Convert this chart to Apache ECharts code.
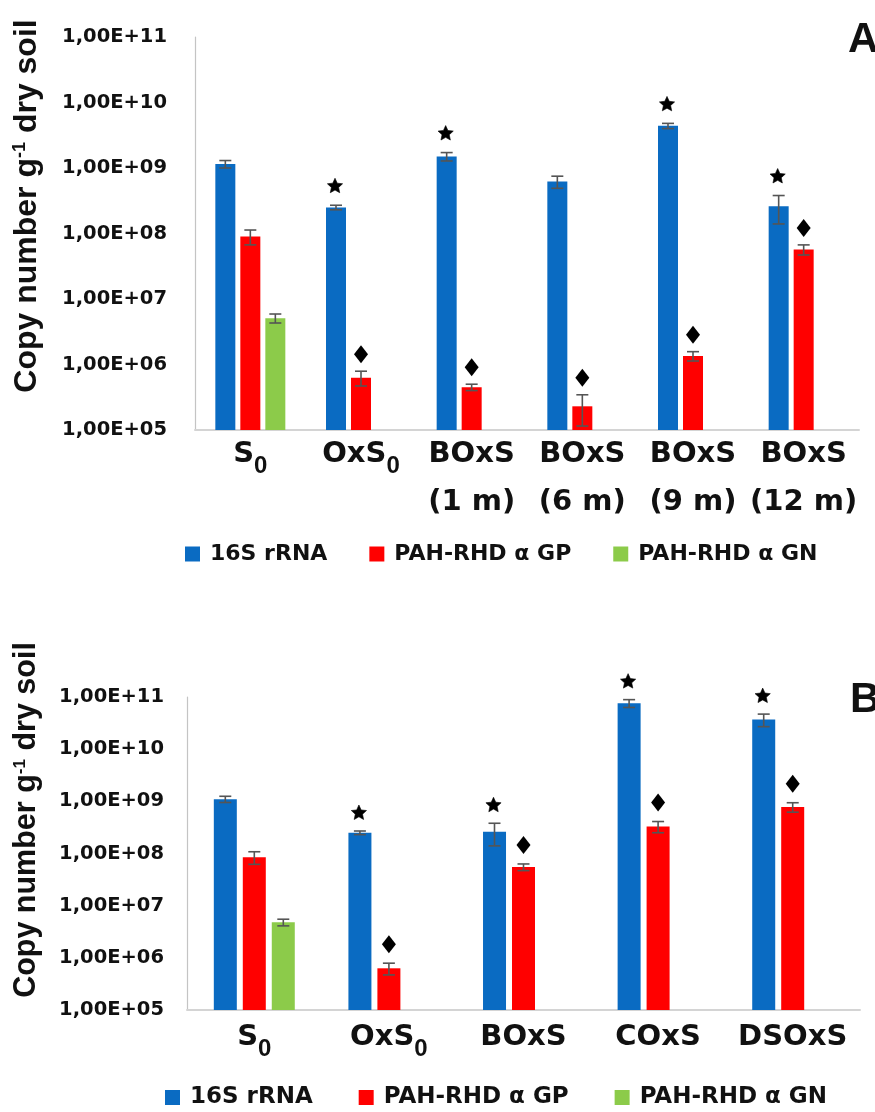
<!DOCTYPE html>
<html><head><meta charset="utf-8">
<script src="https://cdn.jsdelivr.net/npm/echarts@6/dist/echarts.min.js"></script>
<style>html,body{margin:0;padding:0;background:#fff}#c{width:875px;height:1112px}</style>
</head><body><div id="c"></div>
<script>
// ---------- data ----------
const seriesNames = ['16S rRNA', 'PAH-RHD α GP', 'PAH-RHD α GN'];
const seriesColors = ['#0A6BC2', '#FF0000', '#8CCB4A'];
const yTickLabels = ['1,00E+05', '1,00E+06', '1,00E+07', '1,00E+08', '1,00E+09', '1,00E+10', '1,00E+11'];

// Panel A
const categoriesA = ['S0', 'OxS0', 'BOxS\n(1 m)', 'BOxS\n(6 m)', 'BOxS\n(9 m)', 'BOxS\n(12 m)'];
const rrnaA    = [1.15e9, 2.5e8, 1.5e9, 6.2e8, 4.4e9, 2.6e8];
const rrnaErrA = [1.5e8, 2.0e7, 2.2e8, 1.3e8, 4.0e8, 1.2e8];
const gpA      = [9.0e7, 6.3e5, 4.5e5, 2.3e5, 1.35e6, 5.7e7];
const gpErrA   = [2.3e7, 1.6e5, 5.0e4, 1.15e5, 2.2e5, 1.0e7];
const gnA      = [5.1e6, null, null, null, null, null];
const gnErrA   = [8.0e5, null, null, null, null, null];
const starA    = [0, 1, 1, 0, 1, 1];   // * on 16S rRNA
const diamondA = [0, 1, 1, 1, 1, 1];   // ♦ on PAH-RHD α GP

// Panel B
const categoriesB = ['S0', 'OxS0', 'BOxS', 'COxS', 'DSOxS'];
const rrnaB    = [1.1e9, 2.5e8, 2.6e8, 7.6e10, 3.7e10];
const rrnaErrB = [1.5e8, 2.0e7, 1.2e8, 1.3e10, 1.0e10];
const gpB      = [8.5e7, 6.3e5, 5.5e7, 3.3e8, 7.8e8];
const gpErrB   = [2.3e7, 1.6e5, 8.0e6, 8.0e7, 1.6e8];
const gnB      = [4.8e6, null, null, null, null];
const gnErrB   = [7.0e5, null, null, null, null];
const starB    = [0, 1, 1, 1, 1];
const diamondB = [0, 1, 1, 1, 1];

// ---------- helpers ----------
const chart = echarts.init(document.getElementById('c'), null, {renderer: 'canvas'});

function errData(vals, errs, k, marks) {
  const out = [];
  vals.forEach((v, i) => {
    if (v == null) return;
    out.push([i, v, errs[i] || 0, k, marks ? marks[i] : 0]);
  });
  return out;
}

function starPoints(cx, cy, R, r) {
  const pts = [];
  for (let i = 0; i < 10; i++) {
    const a = -Math.PI / 2 + i * Math.PI / 5;
    const rad = i % 2 === 0 ? R : r;
    pts.push([cx + rad * Math.cos(a), cy + rad * Math.sin(a)]);
  }
  return pts;
}

function makeRender(barW, gap, starGap, diaGap) {
  return function (params, api) {
    const cat = api.value(0), v = api.value(1), e = api.value(2), k = api.value(3), mark = api.value(4);
    const hi = api.coord([cat, v + e]);
    const lo = api.coord([cat, v - e]);
    const x = hi[0] + (k - 1) * (barW + gap);
    const cap = 6;
    const st = {stroke: '#555', lineWidth: 1.6};
    const children = [
      {type: 'line', shape: {x1: x, y1: hi[1], x2: x, y2: lo[1]}, style: st},
      {type: 'line', shape: {x1: x - cap, y1: hi[1], x2: x + cap, y2: hi[1]}, style: st},
      {type: 'line', shape: {x1: x - cap, y1: lo[1], x2: x + cap, y2: lo[1]}, style: st}
    ];
    if (mark) {
      if (k === 0) {
        const cy = hi[1] - starGap;
        children.push({type: 'polygon', shape: {points: starPoints(x - 1, cy, 8, 3.8)}, style: {fill: '#000', stroke: '#000', lineWidth: 0.6, lineJoin: 'round'}});
      } else {
        const cy = hi[1] - diaGap;
        children.push({type: 'polygon', shape: {points: [[x, cy - 9], [x + 7, cy], [x, cy + 9], [x - 7, cy]]}, style: {fill: '#000'}});
      }
    }
    return {type: 'group', children};
  };
}

function catFormatter(v) {
  return v.split('\n').map(l => l.replace(/S0$/, 'S{s|0}')).join('\n');
}

function xAxisCfg(gridIndex, cats, margin) {
  return {
    type: 'category', gridIndex, data: cats,
    axisLine: {lineStyle: {color: '#d4d4d4', width: 2}},
    axisTick: {show: false},
    axisLabel: {
      interval: 0, margin, color: '#111',
      fontFamily: 'DejaVu Sans', fontWeight: 'bold', fontSize: 29, lineHeight: 48,
      formatter: catFormatter,
      rich: {s: {fontFamily: 'Liberation Sans', fontWeight: 'bold', fontSize: 24, lineHeight: 30, verticalAlign: 'bottom', color: '#111'}}
    }
  };
}

function yAxisCfg(gridIndex, margin) {
  return {
    type: 'log', logBase: 10, gridIndex, min: 1e5, max: 1e11, splitNumber: 6,
    axisLine: {show: true, lineStyle: {color: '#c4c4c4', width: 1.2}},
    axisTick: {show: false},
    splitLine: {show: false},
    axisLabel: {
      margin, color: '#111', fontFamily: 'DejaVu Sans', fontWeight: 'bold', fontSize: 19.5,
      formatter: v => yTickLabels[Math.round(Math.log10(v)) - 5] || ''
    }
  };
}

function barSeries(idx, name, data, barW, gap) {
  return {
    type: 'bar', name, xAxisIndex: idx, yAxisIndex: idx, data,
    barWidth: barW, barGap: gap, itemStyle: {color: seriesColors[seriesNames.indexOf(name)]},
    silent: true, animation: false
  };
}

function errSeries(idx, data, barW, gap, sg, dg) {
  return {
    type: 'custom', name: 'err' + idx, xAxisIndex: idx, yAxisIndex: idx,
    data, encode: {x: 0, y: 1}, renderItem: makeRender(barW, gap, sg, dg),
    silent: true, animation: false, z: 5
  };
}

const wA = 20, gA = 5, wB = 23, gB = 6;
const errA = [].concat(
  errData(rrnaA, rrnaErrA, 0, starA),
  errData(gpA, gpErrA, 1, diamondA),
  errData(gnA, gnErrA, 2, null));
const errB = [].concat(
  errData(rrnaB, rrnaErrB, 0, starB),
  errData(gpB, gpErrB, 1, diamondB),
  errData(gnB, gnErrB, 2, null));

function legendCfg(left, top, gap, fs) {
  return {
    left, top, itemGap: gap,
    icon: 'rect', itemWidth: 15, itemHeight: 15, data: seriesNames,
    selectedMode: false,
    textStyle: {fontFamily: 'DejaVu Sans', fontWeight: 'bold', fontSize: fs, color: '#111', padding: [0, 0, 0, 5]}
  };
}

const yTitle = (x, y, size) => ({
  type: 'text', x, y, rotation: Math.PI / 2,
  style: {
    text: 'Copy number g{sup|-1} dry soil', x: 0, y: 0,
    align: 'center', verticalAlign: 'middle',
    font: 'bold ' + size + 'px "Liberation Sans", Arial', fill: '#111',
    rich: {sup: {font: 'bold ' + Math.round(size * 0.55) + 'px "Liberation Sans", Arial', fill: '#111', lineHeight: 12, verticalAlign: 'top'}}
  }
});

const option = {
  animation: false,
  backgroundColor: '#fff',
  grid: [
    {left: 195, right: 16, top: 37, height: 393, containLabel: false},
    {left: 187, right: 15, top: 697, height: 313, containLabel: false}
  ],
  xAxis: [xAxisCfg(0, categoriesA, 0), xAxisCfg(1, categoriesB, 3)],
  yAxis: [yAxisCfg(0, 28), yAxisCfg(1, 23)],
  legend: [legendCfg(180, 538, 42, 22), legendCfg(160, 1081, 46, 23)],
  series: [
    barSeries(0, seriesNames[0], rrnaA, wA, '25%'),
    barSeries(0, seriesNames[1], gpA, wA, '25%'),
    barSeries(0, seriesNames[2], gnA, wA, '25%'),
    errSeries(0, errA, wA, gA, 19, 17),
    barSeries(1, seriesNames[0], rrnaB, wB, '26%'),
    barSeries(1, seriesNames[1], gpB, wB, '26%'),
    barSeries(1, seriesNames[2], gnB, wB, '26%'),
    errSeries(1, errB, wB, gB, 18, 19)
  ],
  graphic: [
    yTitle(27, 206, 32),
    yTitle(27, 820, 30.5),
    {type: 'text', x: 848, y: 40, style: {text: 'A', x: 0, y: 0, verticalAlign: 'middle', font: 'bold 42px "Liberation Sans", Arial', fill: '#111'}},
    {type: 'text', x: 850, y: 700, style: {text: 'B', x: 0, y: 0, verticalAlign: 'middle', font: 'bold 42px "Liberation Sans", Arial', fill: '#111'}}
  ]
};
chart.setOption(option);
</script>
</body></html>
